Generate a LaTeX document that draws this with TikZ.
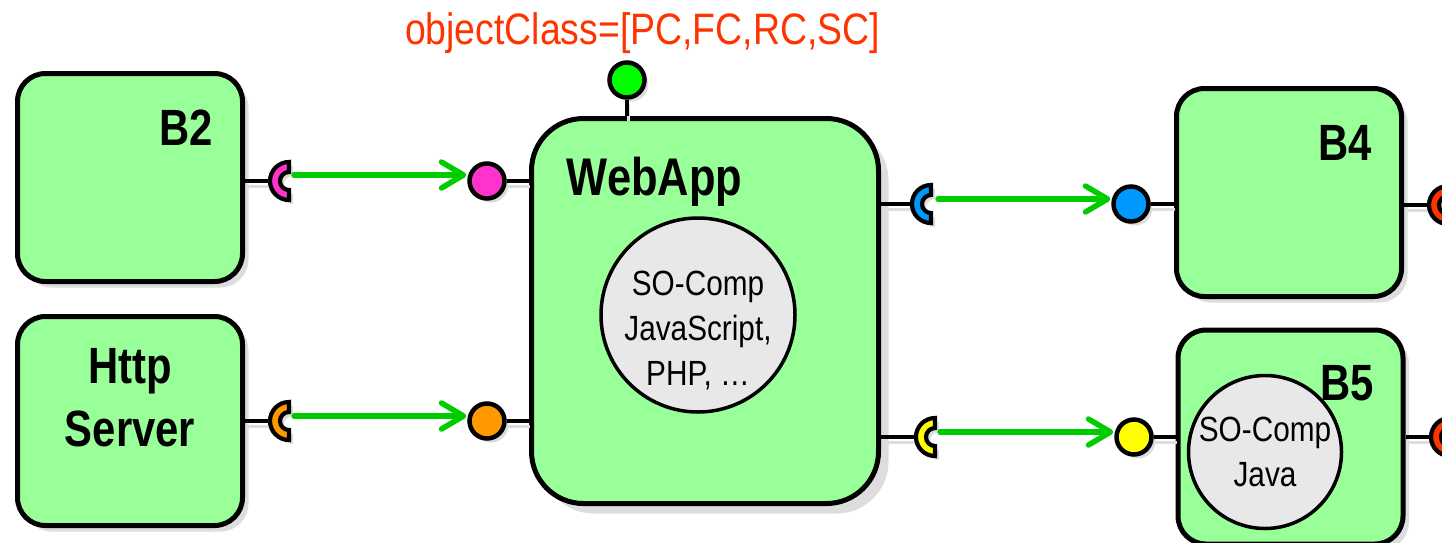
\documentclass[tikz,border=0pt]{standalone}
\usepackage{fontspec}
\setmainfont{Liberation Sans}
\newfontfamily\nar[FakeStretch=0.85]{Liberation Sans}
\newfontfamily\nbf[FakeStretch=0.82]{Liberation Sans}
\usetikzlibrary{arrows.meta,shadows,calc}
\definecolor{boxgreen}{RGB}{153,255,153}
\definecolor{shadowgray}{RGB}{221,221,221}
\definecolor{arrowgreen}{RGB}{0,204,0}
\definecolor{pinkc}{RGB}{255,51,204}
\definecolor{orangec}{RGB}{255,153,0}
\definecolor{bluec}{RGB}{0,153,255}
\definecolor{yellowc}{RGB}{255,255,0}
\definecolor{redc}{RGB}{255,51,0}
\definecolor{limec}{RGB}{0,255,0}
\definecolor{compgray}{RGB}{232,232,232}
\definecolor{labelred}{RGB}{255,51,0}
% socket (required interface): half annulus, flat side at the given point
\newcommand\sockpath[3]{([xshift=#2,yshift=19pt+#3]#1) arc[start angle=90,end angle=270,radius=19pt]
    -- ([xshift=#2,yshift=-9pt+#3]#1) arc[start angle=270,end angle=90,radius=9pt] -- cycle}
\newcommand\sockt[2]{%
  \fill[shadowgray] \sockpath{#1}{4pt}{-4pt};
  \draw[socketstyle, fill=#2] \sockpath{#1}{0pt}{0pt};}
\newcommand\connline[2]{%
  \draw[connshadow] ($#1+(1,5)$) -- ($#2+(1,5)$);
  \draw[connblack] #1 -- #2;}
\begin{document}
\begin{tikzpicture}[x=1pt,y=-1pt,
  box/.style={draw=black, line width=5pt, fill=boxgreen, rounded corners=28pt,
    minimum width=225pt, minimum height=208pt,
    drop shadow={shadow xshift=6pt, shadow yshift=-6pt, fill=shadowgray, opacity=1}},
  bigbox/.style={draw=black, line width=5pt, fill=boxgreen, rounded corners=52pt,
    minimum width=347pt, minimum height=385pt,
    drop shadow={shadow xshift=10pt, shadow yshift=-10pt, fill=shadowgray, opacity=1}},
  iface/.style={circle, draw=black, line width=4.5pt, minimum size=35pt, inner sep=0pt,
    drop shadow={shadow xshift=4pt, shadow yshift=-4pt, fill=shadowgray, opacity=1}},
  socketstyle/.style={draw=black, line width=4.2pt, line join=miter},
  connblack/.style={draw=black, line width=4pt},
  connshadow/.style={draw=shadowgray, line width=3pt},
  flow/.style={draw=arrowgreen, line width=5.5pt, line cap=round,
    -{Straight Barb[length=22pt,width=26pt,round]}},
  comp/.style={circle, draw=black, line width=3.5pt, fill=compgray, inner sep=0pt},
  comptext/.style={inner sep=0pt, anchor=base, align=center,
    font=\nar\fontsize{35}{44.7}\selectfont},
  btext/.style={inner sep=0pt, anchor=base, align=center,
    font=\nbf\bfseries\fontsize{51}{63}\selectfont},
]
\useasboundingbox (0,0) rectangle (1442,542);
\clip (0,0) rectangle (1442,542);

% boxes
\node[box] (B2) at (130,177.5) {};
\node[box, minimum height=209pt] (HS) at (130,421) {};
\node[bigbox] (WA) at (705,311) {};
\node[box] (B4) at (1289,192.5) {};
\node[box, minimum height=214pt] (B5) at (1290.5,437) {};

% inner components
\node[comp, minimum size=194pt] (wc) at (698,315) {};
\node[comptext] (wct) at (698,385) {SO-Comp\\JavaScript,\\PHP, …};
\node[comp, minimum size=153pt] (bc) at (1265,452) {};
\node[comptext] (bct) at (1265,486) {SO-Comp\\Java};

% box titles
\node[btext] (tB2) at (186,145) {B2};
\node[btext] (tHS) at (130,446) {Http\\Server};
\node[btext, font=\nbf\bfseries\fontsize{53}{63}\selectfont] (tWA) at (654.5,195) {WebApp};
\node[btext] (tB4) at (1345,160) {B4};
\node[btext] (tB5) at (1347,400) {B5};

% label
\node[inner sep=0pt, anchor=base, text=labelred, font=\nar\fontsize{44}{50}\selectfont] (lbl) at (642.5,44) {objectClass=[PC,FC,RC,SC]};

% socket positions
\coordinate (sP) at (289,181);
\coordinate (sO) at (289,421);
\coordinate (sB) at (931,204);
\coordinate (sY) at (935,437);
\coordinate (sR1) at (1448,205);
\coordinate (sR2) at (1450,437);

% provided interfaces
\node[iface, fill=pinkc] (cP) at (487,181) {};
\node[iface, fill=orangec] (cO) at (487,421) {};
\node[iface, fill=bluec] (cB) at (1131,204) {};
\node[iface, fill=yellowc] (cY) at (1134,437) {};
\node[iface, fill=limec] (cG) at (627,80) {};

% connector stubs
\connline{(B2.east |- sP)}{([xshift=-19pt]sP)}
\connline{(HS.east |- sO)}{([xshift=-19pt]sO)}
\connline{(WA.east |- sB)}{([xshift=-19pt]sB)}
\connline{(WA.east |- sY)}{([xshift=-19pt]sY)}
\connline{(B4.east |- sR1)}{([xshift=-19pt]sR1)}
\connline{(B5.east |- sR2)}{([xshift=-19pt]sR2)}
\connline{(cP.east)}{(cP -| WA.west)}
\connline{(cO.east)}{(cO -| WA.west)}
\connline{(cB.east)}{(cB -| B4.west)}
\connline{(cY.east)}{(cY -| B5.west)}
\connline{(cG.south)}{(cG |- WA.north)}

% sockets
\sockt{sP}{pinkc}
\sockt{sO}{orangec}
\sockt{sB}{bluec}
\sockt{sY}{yellowc}
\sockt{sR1}{redc}
\sockt{sR2}{redc}

% flows
\draw[flow] ([xshift=5pt,yshift=6pt]sP) -- ([xshift=-1pt,yshift=6pt]cP.west);
\draw[flow] ([xshift=5pt,yshift=5pt]sO) -- ([xshift=-1pt,yshift=5pt]cO.west);
\draw[flow] ([xshift=7pt,yshift=5pt]sB) -- ([xshift=-1pt,yshift=5pt]cB.west);
\draw[flow] ([xshift=5pt,yshift=5pt]sY) -- ([xshift=-1pt,yshift=5pt]cY.west);
\end{tikzpicture}
\end{document}
